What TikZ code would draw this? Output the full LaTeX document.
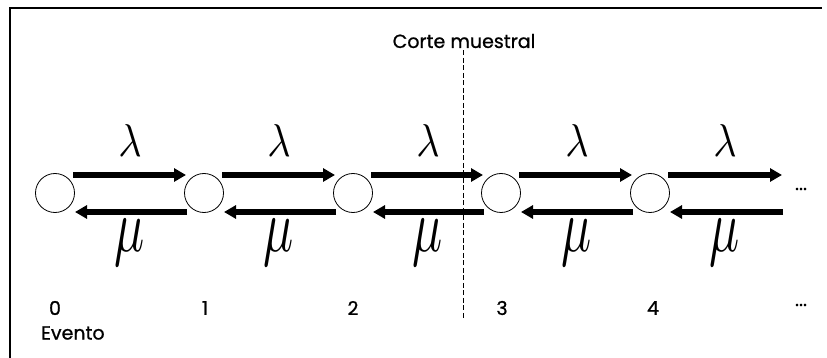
\documentclass[tikz,border=0pt]{standalone}
\usepackage{fontspec}
\newfontfamily\labfont[FakeBold=0.9]{Poppins}
\usetikzlibrary{arrows.meta}
\begin{document}
\begin{tikzpicture}[x=1pt,y=-1pt,
  state/.style={draw,circle,line width=0.8pt,minimum size=39pt,inner sep=0pt},
  flow/.style={line width=5.5pt,-{Triangle[length=12pt,width=13pt]}},
  lam/.style={inner sep=0pt},
  mulab/.style={inner sep=0pt},
  txt/.style={inner sep=0pt,font=\labfont\fontsize{19}{19}\selectfont},
  frame/.style={line width=1.6pt}]
\useasboundingbox (0,0) rectangle (827,358);
\coordinate (fb) at (10,358);
\coordinate (ftl) at (10,8);
\coordinate (ftr) at (822,8);
\draw[frame] (fb) -- (ftl) -- (ftr);
% states
\foreach \i/\x in {0/55,1/204,2/353,3/501,4/650}{
  \node[state] (c\i) at (\x,193) {};
}
\coordinate (endtop) at (782,175);
\coordinate (endbot) at (783,212);
% arrows
\foreach \a/\b in {0/1,1/2,2/3,3/4}{
  \draw[flow] ([xshift=18pt,yshift=18pt]c\a.center) -- ([xshift=-18pt,yshift=18pt]c\b.center);
  \draw[flow] ([xshift=-17pt,yshift=-19pt]c\b.center) -- ([xshift=20pt,yshift=-19pt]c\a.center);
}
\draw[flow] ([xshift=18pt,yshift=18pt]c4.center) -- (endtop);
\draw[flow] (endbot) -- ([xshift=20pt,yshift=-19pt]c4.center);
% labels
\foreach \i/\x in {0/130,1/279,2/428,3/577,4/725}{
  \node[lam] (l\i) at (\x,141) {\scalebox{4.0}[4.6]{$\lambda$}};
  \node[mulab] (m\i) at (\x,243) {\scalebox{5.0}[7.5]{$\mu$}};
}
\node[txt] (dotstop) at (801,189) {...};
% numbers
\foreach \i/\x in {0/55,1/205,2/353,3/502,4/653}{
  \node[txt] (n\i) at (\x,308) {\i};
}
\node[txt] (dotsbot) at (801,305) {...};
\node[txt,anchor=west] (ev) at (41,333) {Evento};
\node[txt] (corte) at (464,41) {Corte muestral};
\coordinate (cutend) at (463,320);
\draw[line width=0.8pt,dash pattern=on 5pt off 2.5pt] (corte.south -| cutend) ++(0,2) -- (cutend);
\end{tikzpicture}
\end{document}
